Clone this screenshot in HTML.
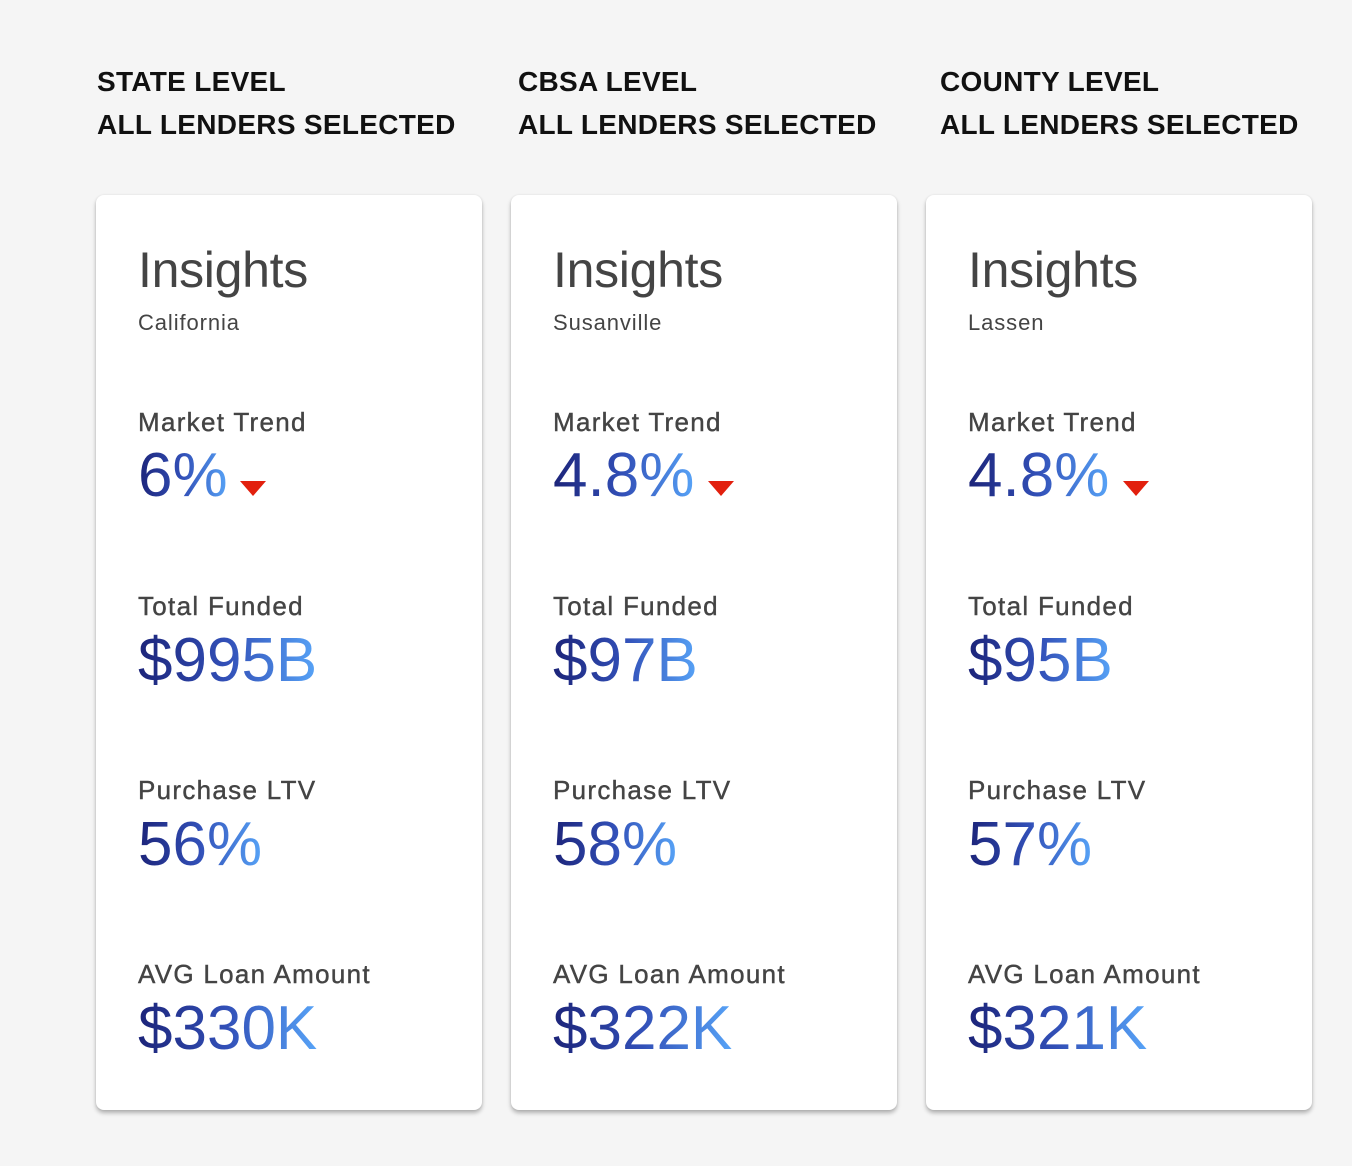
<!DOCTYPE html>
<html><head><meta charset="utf-8"><style>
body{margin:0;width:1352px;height:1166px;background:#f5f5f5;font-family:"Liberation Sans",sans-serif;position:relative;overflow:hidden}
.h{position:absolute;font-weight:bold;font-size:28px;line-height:28px;color:#111;white-space:nowrap;letter-spacing:0.3px}
.card{position:absolute;top:195px;width:386px;height:915px;background:#fff;border-radius:8px;box-shadow:0 3px 4px rgba(0,0,0,0.28),0 0 2px rgba(0,0,0,0.08)}
.t{position:absolute;left:42px;white-space:nowrap;color:#444}
.ins{font-size:50px;line-height:50px;top:50px;letter-spacing:-0.3px}
.sub{font-size:22px;line-height:22px;top:117px;letter-spacing:0.9px}
.lab{font-size:26px;line-height:26px;letter-spacing:1.3px;-webkit-text-stroke:0.4px #444}
.val{font-size:62px;line-height:62px;background:linear-gradient(90deg,#1c2479 0%,#3250b8 50%,#57a3f7 100%);-webkit-background-clip:text;background-clip:text;color:transparent;display:inline-block}
.tri{position:absolute;width:0;height:0;border-left:13px solid transparent;border-right:13px solid transparent;border-top:15px solid #e2200e}
</style></head><body>
<div class="h" style="left:97px;top:68px">STATE LEVEL</div>
<div class="h" style="left:97px;top:111px">ALL LENDERS SELECTED</div>
<div class="h" style="left:518px;top:68px">CBSA LEVEL</div>
<div class="h" style="left:518px;top:111px">ALL LENDERS SELECTED</div>
<div class="h" style="left:940px;top:68px">COUNTY LEVEL</div>
<div class="h" style="left:940px;top:111px">ALL LENDERS SELECTED</div>

<div class="card" style="left:96px">
<div class="t ins">Insights</div><div class="t sub">California</div>
<div class="t lab" style="top:214px">Market Trend</div><div class="t val" style="top:250px">6%</div>
<div class="tri" style="left:144px;top:286px"></div>
<div class="t lab" style="top:398px">Total Funded</div><div class="t val" style="top:435px">$995B</div>
<div class="t lab" style="top:582px">Purchase LTV</div><div class="t val" style="top:619px">56%</div>
<div class="t lab" style="top:766px">AVG Loan Amount</div><div class="t val" style="top:803px">$330K</div>
</div>

<div class="card" style="left:511px">
<div class="t ins">Insights</div><div class="t sub">Susanville</div>
<div class="t lab" style="top:214px">Market Trend</div><div class="t val" style="top:250px">4.8%</div>
<div class="tri" style="left:197px;top:286px"></div>
<div class="t lab" style="top:398px">Total Funded</div><div class="t val" style="top:435px">$97B</div>
<div class="t lab" style="top:582px">Purchase LTV</div><div class="t val" style="top:619px">58%</div>
<div class="t lab" style="top:766px">AVG Loan Amount</div><div class="t val" style="top:803px">$322K</div>
</div>

<div class="card" style="left:926px">
<div class="t ins">Insights</div><div class="t sub">Lassen</div>
<div class="t lab" style="top:214px">Market Trend</div><div class="t val" style="top:250px">4.8%</div>
<div class="tri" style="left:197px;top:286px"></div>
<div class="t lab" style="top:398px">Total Funded</div><div class="t val" style="top:435px">$95B</div>
<div class="t lab" style="top:582px">Purchase LTV</div><div class="t val" style="top:619px">57%</div>
<div class="t lab" style="top:766px">AVG Loan Amount</div><div class="t val" style="top:803px">$321K</div>
</div>
</body></html>
